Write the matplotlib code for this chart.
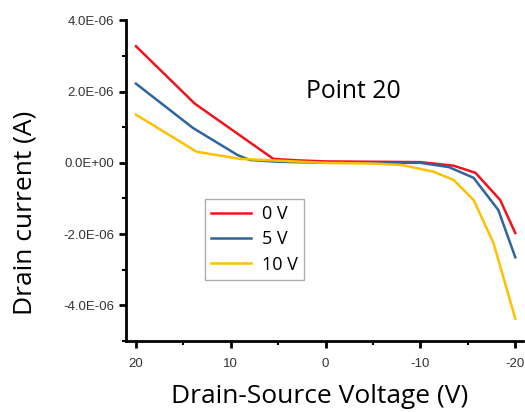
import numpy as np
import matplotlib.pyplot as plt
from matplotlib.ticker import MultipleLocator, FormatStrFormatter

# drain-source voltage (V) and drain current (A) for each gate voltage
vds_0 = [20, 13.8, 6.9, 5.5, 3, 0, -5, -10, -13.5, -15.8, -18.4, -20]
id_0 = [3.27e-6, 1.66e-6, 0.37e-6, 0.11e-6, 0.07e-6, 0.04e-6, 0.03e-6, 0.02e-6, -0.08e-6, -0.28e-6, -1.04e-6, -1.97e-6]

vds_5 = [20, 14, 9.3, 8, 5, 0, -5, -10, -13, -15.6, -18.2, -20]
id_5 = [2.22e-6, 0.98e-6, 0.22e-6, 0.08e-6, 0.03e-6, 0.0, 0.0, 0.0, -0.12e-6, -0.42e-6, -1.32e-6, -2.65e-6]

vds_10 = [20, 13.6, 9, 5, 0, -5, -8, -11.4, -13.5, -15.6, -17.7, -20]
id_10 = [1.35e-6, 0.31e-6, 0.11e-6, 0.06e-6, 0.0, -0.02e-6, -0.06e-6, -0.25e-6, -0.48e-6, -1.04e-6, -2.25e-6, -4.37e-6]

labels = ['0 V', '5 V', '10 V']
colors = ['#f0141e', '#2e64a0', '#ffc000']

fig = plt.figure(figsize=(5.25, 4.12), dpi=100)
ax = fig.add_axes([0.24, 0.172, 0.756, 0.779])

ax.plot(vds_0, id_0, color=colors[0], lw=1.8, label=labels[0])
ax.plot(vds_5, id_5, color=colors[1], lw=1.8, label=labels[1])
ax.plot(vds_10, id_10, color=colors[2], lw=1.8, label=labels[2])

ax.set_xlim(21.05, -20.8)
ax.set_ylim(-5e-6, 4e-6)

for s in ['top', 'right']:
    ax.spines[s].set_visible(False)
for s in ['left', 'bottom']:
    ax.spines[s].set_linewidth(2)

ax.xaxis.set_major_locator(MultipleLocator(10))
ax.xaxis.set_minor_locator(MultipleLocator(5))
ax.yaxis.set_major_locator(MultipleLocator(2e-6))
ax.yaxis.set_minor_locator(MultipleLocator(1e-6))
ax.yaxis.set_major_formatter(FormatStrFormatter('%.1E'))
ax.xaxis.set_major_formatter(FormatStrFormatter('%d'))

ax.tick_params(which='major', direction='out', length=5, width=2, labelsize=9.5,
               labelcolor='#333333', labelfontfamily='Liberation Sans')
ax.tick_params(axis='x', which='major', pad=7)
ax.tick_params(which='minor', direction='out', length=3, width=1.5)

ax.set_xlabel('Drain-Source Voltage (V)', fontsize=19, family='Open Sans', labelpad=10)
ax.xaxis.label.set_x(0.489)
ax.set_ylabel('Drain current (A)', fontsize=19, family='Open Sans')
ax.yaxis.set_label_coords(-0.222, 0.40)

ax.text(0.453, 0.757, 'Point 20', transform=ax.transAxes, fontsize=17.8, family='Open Sans')

leg = ax.legend(loc='upper left', bbox_to_anchor=(0.199, 0.443),
                prop={'family': 'Open Sans', 'size': 13}, frameon=True, fancybox=False,
                edgecolor='#999999', handlelength=2.2, borderpad=0.35, labelspacing=0.4,
                handletextpad=0.6, borderaxespad=0)
leg.get_frame().set_linewidth(1)

fig.savefig('out.png', dpi=100)
